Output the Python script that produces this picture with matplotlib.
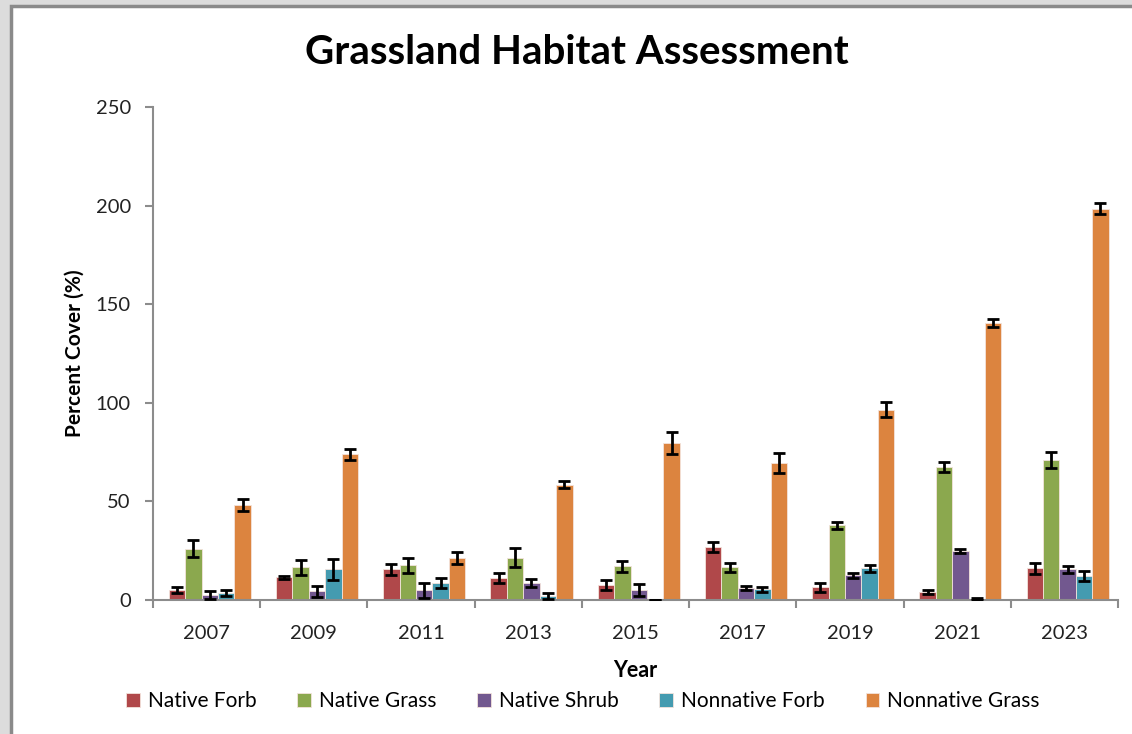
import matplotlib
matplotlib.use("Agg")
import matplotlib.pyplot as plt
import numpy as np
from matplotlib.patches import Rectangle

years = ["2007", "2009", "2011", "2013", "2015", "2017", "2019", "2021", "2023"]
series_names = ["Native Forb", "Native Grass", "Native Shrub", "Nonnative Forb", "Nonnative Grass"]

native_forb = [5, 11.5, 15.5, 11, 7.5, 27, 6.5, 4, 16]
native_forb_err = [1.5, 0.8, 2.6, 2.6, 2.6, 2.5, 2.3, 1.2, 2.8]
native_grass = [26, 16.5, 17.5, 21.5, 17, 16.5, 38, 67.5, 71]
native_grass_err = [4.2, 4, 4, 4.8, 2.9, 2.2, 1.8, 2.4, 4.3]
native_shrub = [2.5, 4.5, 5, 8.5, 5, 6, 12.5, 25, 15.5]
native_shrub_err = [2, 2.8, 3.8, 1.9, 3, 1, 1.2, 1.1, 1.7]
nonnative_forb = [3.5, 15.5, 8.5, 2, 0, 5.5, 16, 0.5, 12]
nonnative_forb_err = [1.5, 5.5, 2.5, 1.4, 0, 1.3, 1.7, 0.3, 2.5]
nonnative_grass = [48, 74, 21.5, 58.5, 79.5, 69.5, 96.5, 140.5, 198.5]
nonnative_grass_err = [3, 2.8, 3, 1.9, 5.5, 5, 3.7, 2, 3]

values = [native_forb, native_grass, native_shrub, nonnative_forb, nonnative_grass]
errors = [native_forb_err, native_grass_err, native_shrub_err, nonnative_forb_err, nonnative_grass_err]
colors = ["#B0484A", "#8BA84E", "#72588F", "#449BB0", "#DC843F"]

plt.rcParams['font.family'] = ['Lato', 'DejaVu Sans']

fig = plt.figure(figsize=(11.32, 7.34), dpi=100)
fig.patch.set_facecolor("#dcdcdc")
fig.patches.append(Rectangle((11/1132, -0.02), 1.2, 1 - 6/734 + 0.02, transform=fig.transFigure,
                             facecolor="white", edgecolor="#8a8a8a", linewidth=2.5, zorder=-10))

ax = fig.add_axes([153/1132, 1 - 600/734, 965/1132, 493/734])
ax.set_facecolor("none")
x = np.arange(len(years))
bw = 0.153
offsets = (np.arange(5) - 2) * bw + 0.03
for i in range(5):
    ax.bar(x + offsets[i], values[i], width=bw, color=colors[i], edgecolor="#f3e3dc", linewidth=0.6,
           label=series_names[i], zorder=2)
    ax.errorbar(x + offsets[i], values[i], yerr=errors[i], fmt="none", ecolor="black",
                elinewidth=2, capsize=4.3, capthick=2, zorder=3)

ax.set_xlim(-0.5, len(years) - 0.5)
ax.set_ylim(0, 250)
ax.set_yticks([0, 50, 100, 150, 200, 250])
ax.set_xticks(x)
ax.set_xticklabels(years)
ax.set_xticks(np.arange(-0.5, len(years)), minor=True)
ax.tick_params(axis="x", which="major", length=0, labelsize=14.5, colors="#222222", pad=18)
ax.tick_params(axis="x", which="minor", length=6, width=1.5, color="#8c8c8c")
ax.tick_params(axis="y", length=6, width=1.5, color="#8c8c8c", labelsize=14.5, labelcolor="#222222", pad=10)
for s in ["top", "right"]:
    ax.spines[s].set_visible(False)
for s in ["left", "bottom"]:
    ax.spines[s].set_color("#8c8c8c")
    ax.spines[s].set_linewidth(1.5)

ax.set_ylabel("Percent Cover (%)", fontsize=15, fontweight="bold", labelpad=8)
ax.set_xlabel("Year", fontsize=15.5, fontweight="bold", labelpad=13)

fig.text(577/1132, 1 - 52/734, "Grassland Habitat Assessment", fontsize=29, fontweight="bold",
         ha="center", va="center")

fig.legend(loc="center", bbox_to_anchor=(583/1132, 1 - 701/734), ncol=5, frameon=False,
           fontsize=15, handlelength=0.65, handleheight=0.65, columnspacing=1.95, handletextpad=0.4)

fig.savefig("out.png", dpi=100, facecolor=fig.get_facecolor())
